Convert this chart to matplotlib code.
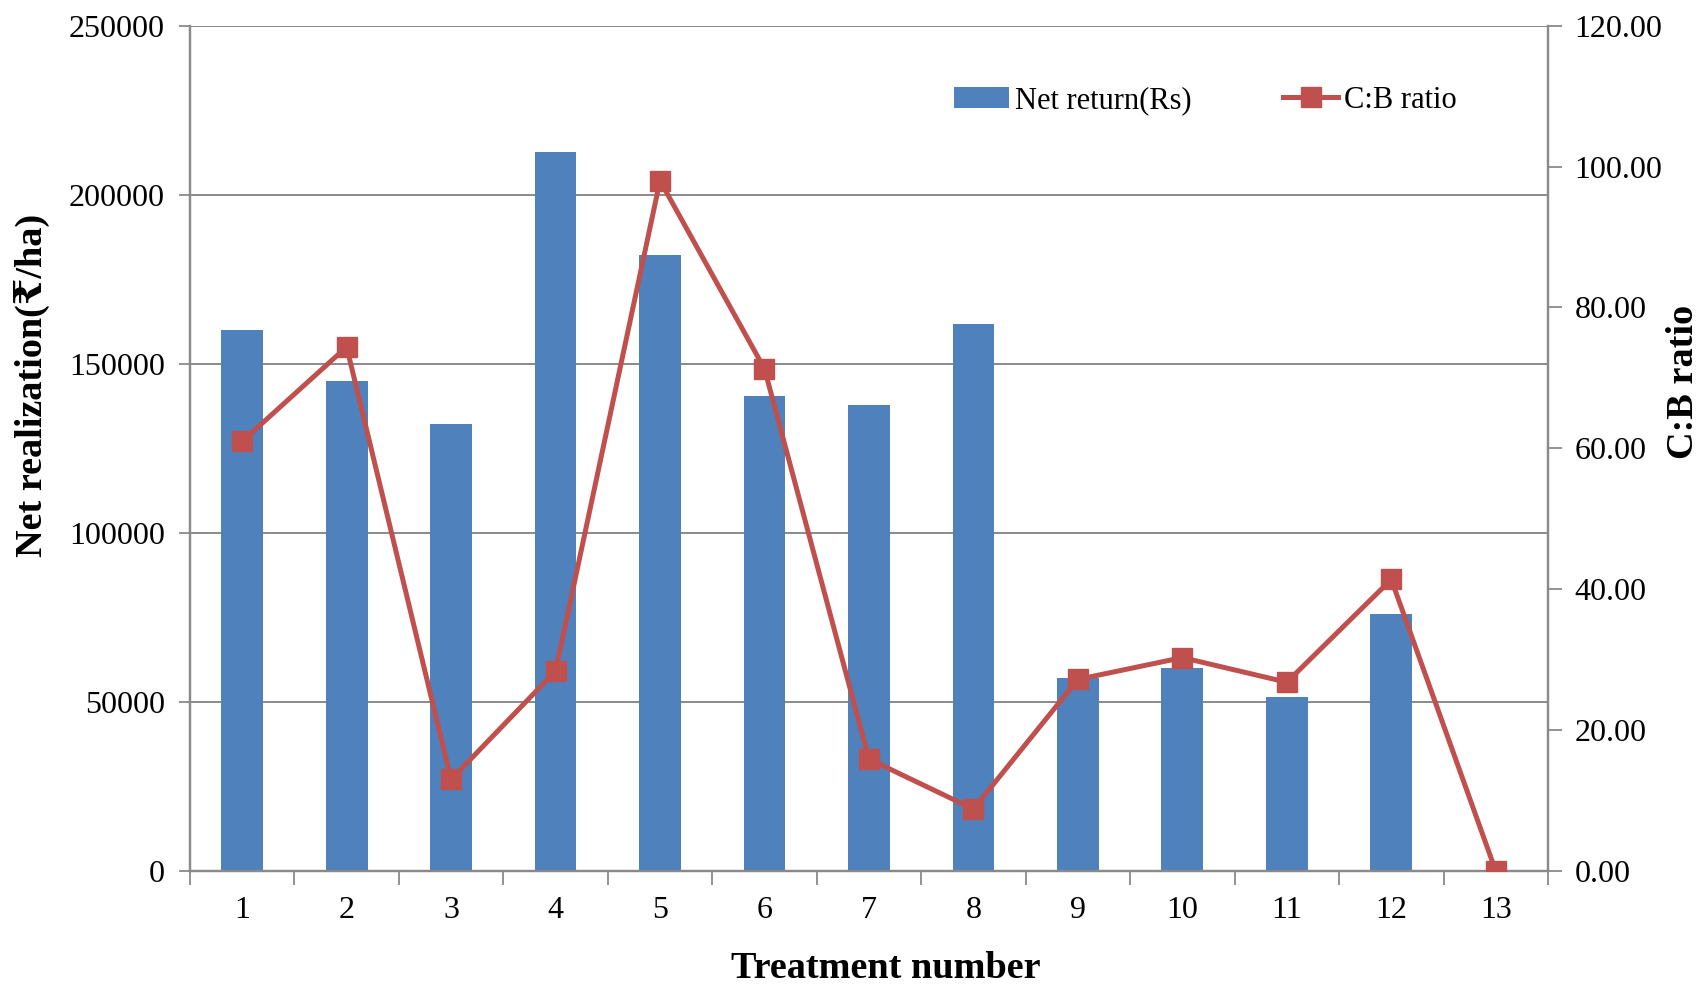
import matplotlib
matplotlib.use("Agg")
import matplotlib.pyplot as plt
from matplotlib.ticker import FixedLocator, FormatStrFormatter

plt.rcParams["font.family"] = ["Liberation Serif", "DejaVu Serif", "DejaVu Sans"]

# treatment data
treatments = ["1", "2", "3", "4", "5", "6", "7", "8", "9", "10", "11", "12", "13"]
net_return = [160000, 145000, 132200, 212700, 182200, 140500, 137800,
              161700, 57100, 59900, 51500, 75900, 0]
cb_ratio = [61.0, 74.4, 13.0, 28.4, 98.0, 71.3, 15.9, 8.8, 27.2, 30.3, 26.8, 41.4, 0.0]

BAR_COLOR = "#4F81BD"
LINE_COLOR = "#C0504D"
GRID_COLOR = "#8A8A8A"

fig = plt.figure(figsize=(17.05, 9.85), dpi=100)
ax = fig.add_axes([0.1114, 0.1157, 0.7965, 0.8582])
ax2 = ax.twinx()

x = list(range(len(treatments)))
bars = ax.bar(x, net_return, width=0.4, color=BAR_COLOR, label="Net return(Rs)", zorder=2)
line, = ax2.plot(x, cb_ratio, color=LINE_COLOR, lw=3.6, marker="s", ms=14.5,
                 mec=LINE_COLOR, label="C:B ratio", zorder=3)

# left axis
ax.set_xlim(-0.5, len(treatments) - 0.5)
ax.set_ylim(0, 250000)
ax.set_yticks(range(0, 250001, 50000))
ax.yaxis.grid(True, color=GRID_COLOR, lw=1.4, zorder=0)
ax.set_axisbelow(True)

# category labels centred, tick marks on the boundaries
ax.set_xticks(x)
ax.set_xticklabels(treatments)
ax.xaxis.set_minor_locator(FixedLocator([i - 0.5 for i in range(len(treatments) + 1)]))
ax.tick_params(axis="x", which="major", length=0, pad=18, labelsize=23)
ax.tick_params(axis="x", which="minor", length=10, width=1.3, color=GRID_COLOR)
ax.tick_params(axis="y", length=8, width=1.3, color=GRID_COLOR, labelsize=23, pad=10)

# right axis
ax2.set_ylim(0, 120)
ax2.set_yticks(range(0, 121, 20))
ax2.yaxis.set_major_formatter(FormatStrFormatter("%.2f"))
ax2.tick_params(axis="y", length=10, width=1.3, color=GRID_COLOR, labelsize=23, pad=9)

for a in (ax, ax2):
    for side in ("left", "right", "bottom"):
        a.spines[side].set_color(GRID_COLOR)
        a.spines[side].set_linewidth(1.6)
    a.spines["top"].set_visible(False)

ax.set_xlabel("Treatment number", fontsize=27.5, fontweight="bold", va="baseline")
ax.set_ylabel("Net realization(₹/ha)", fontsize=27.5, fontweight="bold")
ax2.set_ylabel("C:B ratio", fontsize=27.5, fontweight="bold")
ax.xaxis.set_label_coords(0.5125, -0.126)
ax.yaxis.set_label_coords(-0.103, 0.575)
ax2.yaxis.set_label_coords(1.087, 0.578)

fig.legend(handles=[bars, line], loc="center", bbox_to_anchor=(0.707, 0.898),
           ncol=2, frameon=False, fontsize=22, handlelength=1.8,
           handletextpad=0.2, columnspacing=3.0)

plt.savefig("out.png", dpi=100)
plt.close()
